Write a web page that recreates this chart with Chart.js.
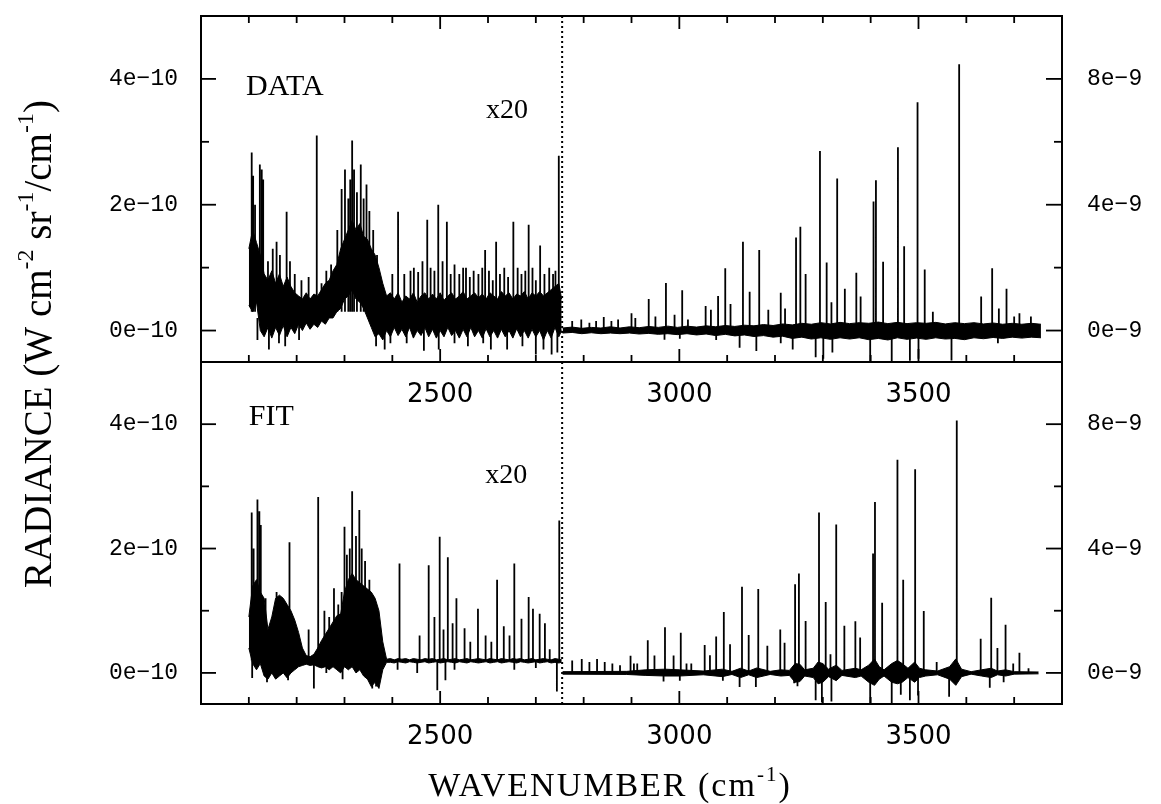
<!DOCTYPE html>
<html>
<head>
<meta charset="utf-8">
<title>Radiance spectrum: data and fit</title>
<script src="https://cdn.jsdelivr.net/npm/chart.js@4.4.0/dist/chart.umd.min.js"></script>
<style>
  html, body { margin: 0; padding: 0; background: #fff; }
  #wrap { position: relative; width: 1161px; height: 804px; overflow: hidden; }
  #wrap canvas { position: absolute; left: 0; top: 0; }
</style>
</head>
<body>
<div id="wrap">
  <canvas id="lowerPanel" width="1161" height="804"></canvas>
  <canvas id="upperPanel" width="1161" height="430"></canvas>
</div>
<script>
// ---------- axes ----------
const X_TICKS = [2500, 3000, 3500];
const X_MINOR = [2100, 2200, 2300, 2400, 2600, 2700, 2800, 2900, 3100, 3200, 3300, 3400, 3600, 3700];
const LEFT_TICKS = [0, 2, 4];     // units of 1e-10
const LEFT_MINOR = [1, 3];
const RIGHT_TICKS = [0, 4, 8];    // units of 1e-9
const RIGHT_MINOR = [2, 6];
const SPLIT_WN = 2755;            // below this wavenumber the trace is magnified x20

// ---------- x20 section (wavenumber grid shared by both panels, radiance in 1e-10) ----------
const lowGridX = [2100,2108,2116,2124,2132,2140,2148,2156,2164,2172,
  2180,2188,2196,2204,2212,2220,2228,2236,2244,2252,
  2260,2268,2276,2284,2292,2300,2308,2316,2324,2332,
  2340,2348,2356,2364,2372,2380,2388,2396,2404,2412,
  2420,2428,2436,2444,2452,2460,2468,2476,2484,2492,
  2500,2508,2516,2524,2532,2540,2548,2556,2564,2572,
  2580,2588,2596,2604,2612,2620,2628,2636,2644,2652,
  2660,2668,2676,2684,2692,2700,2708,2716,2724,2732,
  2740,2748,2754];

// measured spectrum: upper / lower edge of the noise band
const dataLowUpper = [1.3,1.6,1.4,1.2,0.9,0.8,0.95,0.75,0.9,0.7,
  0.85,0.7,0.6,0.55,0.5,0.6,0.5,0.58,0.55,0.65,
  0.75,0.8,0.95,1.05,1.3,1.45,1.6,1.75,1.6,1.7,
  1.5,1.45,1.3,1.2,1.0,0.75,0.55,0.6,0.5,0.6,
  0.45,0.55,0.5,0.6,0.45,0.55,0.6,0.5,0.58,0.5,
  0.6,0.48,0.55,0.6,0.5,0.55,0.62,0.5,0.55,0.6,
  0.52,0.58,0.5,0.6,0.55,0.5,0.62,0.55,0.6,0.5,
  0.58,0.55,0.62,0.5,0.6,0.55,0.62,0.55,0.6,0.65,
  0.7,0.75,0.5];
const dataLowLower = [0.4,0.3,0.45,0.0,-0.1,0.05,-0.12,0.05,-0.08,0.08,
  -0.1,0.05,-0.05,0.1,0.0,0.12,0.02,0.1,0.05,0.15,
  0.1,0.2,0.2,0.3,0.35,0.5,0.55,0.65,0.5,0.45,
  0.35,0.2,0.05,-0.1,-0.05,-0.15,0.0,-0.1,0.05,-0.08,
  0.02,-0.1,0.05,-0.12,0.0,-0.08,0.05,-0.1,0.02,-0.12,
  0.0,-0.1,0.05,-0.08,0.0,-0.12,0.02,-0.1,0.05,-0.1,
  0.0,-0.12,0.03,-0.1,0.0,-0.12,0.02,-0.1,0.0,-0.12,
  0.03,-0.1,0.0,-0.12,0.02,-0.1,0.0,-0.15,0.0,-0.12,
  0.05,-0.1,0.0];
const dataLowBase = 0.3;
const dataLowDipBase = 0.2;
const dataLowLineX = [2106,2109,2113,2123,2127,2130,2140,2150,2158,2165,
  2179,2186,2196,2210,2225,2242,2252,2262,2272,2285,
  2294,2301,2308,2312,2316,2320,2326,2334,2340,2346,
  2352,2360,2368,2400,2412,2425,2438,2445,2454,2463,
  2473,2480,2488,2496,2505,2514,2522,2530,2540,2548,
  2554,2562,2570,2580,2588,2594,2602,2610,2617,2625,
  2634,2642,2653,2662,2670,2678,2685,2693,2700,2709,
  2718,2728,2736,2741,2748];
const dataLowLineY = [2.83,2.46,2.0,2.64,2.56,2.4,1.1,1.3,1.41,1.2,
  1.89,1.1,0.9,0.8,0.85,3.1,0.75,0.95,1.05,1.6,
  2.25,2.56,2.1,2.4,3.02,2.56,2.2,2.64,2.1,2.32,
  1.9,1.6,1.2,0.9,1.89,0.9,0.95,1.0,0.93,1.1,
  1.76,1.0,0.95,2.0,1.1,1.73,0.9,1.05,0.9,1.0,
  1.0,0.85,0.95,0.9,1.0,1.28,0.95,0.8,1.41,0.9,
  1.0,0.85,1.73,1.0,0.9,0.95,1.68,1.0,0.8,1.35,
  0.9,1.0,0.9,0.95,2.78];
const dataLowDipX = [2118,2142,2163,2176,2205,2366,2384,2396,2430,2466,2497,2530,2558,2590,2606,2640,2672,2700,2716,2733,2745];
const dataLowDipY = [-0.15,-0.3,-0.2,-0.25,-0.15,-0.25,-0.3,-0.2,-0.2,-0.32,-0.3,-0.2,-0.25,-0.2,-0.3,-0.3,-0.25,-0.38,-0.3,-0.38,-0.35];

// fitted spectrum
const fitLowUpper = [0.9,1.4,1.5,1.3,1.2,0.7,0.9,1.2,1.25,1.2,
  1.1,1.0,0.85,0.65,0.4,0.28,0.26,0.3,0.4,0.52,
  0.62,0.72,0.82,0.92,0.95,1.3,1.5,1.6,1.5,1.45,
  1.4,1.35,1.3,1.2,1.0,0.5,0.22,0.23,0.21,0.23,
  0.22,0.23,0.21,0.23,0.22,0.21,0.23,0.22,0.23,0.21,
  0.22,0.23,0.21,0.22,0.23,0.21,0.22,0.23,0.21,0.22,
  0.23,0.22,0.21,0.23,0.22,0.21,0.23,0.22,0.21,0.23,
  0.22,0.23,0.21,0.22,0.23,0.21,0.22,0.23,0.22,0.21,
  0.23,0.22,0.21];
const fitLowLower = [0.4,0.15,0.05,0.15,-0.05,-0.1,0.0,-0.1,-0.05,0.0,
  -0.08,0.0,0.05,0.1,0.12,0.14,0.12,0.13,0.1,0.08,
  0.1,0.05,0.1,0.05,0.0,0.1,0.05,0.1,0.0,0.05,
  -0.05,-0.1,-0.22,-0.15,-0.25,0.05,0.17,0.17,0.16,0.18,
  0.17,0.16,0.18,0.17,0.16,0.17,0.18,0.16,0.17,0.18,
  0.16,0.17,0.18,0.17,0.16,0.18,0.17,0.16,0.18,0.17,
  0.16,0.17,0.18,0.16,0.17,0.18,0.16,0.17,0.18,0.17,
  0.16,0.18,0.17,0.16,0.17,0.18,0.16,0.17,0.18,0.16,
  0.17,0.16,0.17];
const fitLowBase = 0.2;
const fitLowLineX = [2106,2110,2118,2122,2125,2135,2158,2166,2175,2185,
  2225,2245,2258,2268,2278,2287,2294,2300,2305,2311,
  2316,2324,2331,2336,2343,2352,2415,2457,2476,2488,
  2499,2507,2516,2526,2534,2551,2563,2579,2595,2607,
  2619,2633,2645,2655,2670,2685,2694,2708,2719,2729,
  2749];
const fitLowLineY = [2.58,2.0,2.79,2.6,2.38,1.2,1.3,1.1,1.0,2.1,
  0.7,2.83,1.0,0.9,1.36,1.1,1.3,2.35,1.9,2.0,
  2.92,2.2,2.62,2.0,1.8,1.5,1.76,0.6,1.73,0.9,
  2.19,0.7,1.86,0.8,1.2,0.72,0.5,1.03,0.6,0.5,
  1.5,0.75,0.6,1.76,0.87,1.22,1.03,0.95,0.8,0.38,
  2.45];
const fitLowDipX = [2107,2138,2182,2236,2262,2296,2358,2366,2411,2452,2494,2511,2530,2655,2700,2744];
const fitLowDipY = [-0.08,-0.15,-0.12,-0.25,0.0,-0.1,-0.25,-0.22,0.05,0.0,-0.28,-0.12,0.05,0.05,0.08,-0.3];

// ---------- unscaled section (radiance in 1e-9) ----------
const highGridX = [2756,2776,2796,2816,2836,2856,2876,2896,2916,2936,
  2956,2976,2996,3016,3036,3056,3076,3096,3116,3136,
  3156,3176,3196,3216,3236,3256,3276,3296,3316,3336,
  3356,3376,3396,3416,3436,3456,3476,3496,3516,3536,
  3556,3576,3596,3616,3636,3656,3676,3696,3716,3736,
  3756];
const dataHighUpper = [0.08,0.11,0.07,0.1,0.08,0.12,0.08,0.12,0.09,0.13,
  0.1,0.14,0.1,0.14,0.11,0.15,0.12,0.16,0.13,0.17,
  0.15,0.19,0.16,0.21,0.18,0.23,0.2,0.25,0.21,0.26,
  0.22,0.25,0.23,0.27,0.22,0.26,0.22,0.25,0.23,0.26,
  0.21,0.25,0.22,0.25,0.21,0.24,0.2,0.23,0.2,0.23,
  0.2];
const dataHighLower = [-0.08,-0.06,-0.1,-0.07,-0.1,-0.08,-0.1,-0.08,-0.11,-0.09,
  -0.12,-0.1,-0.13,-0.1,-0.14,-0.11,-0.16,-0.12,-0.17,-0.14,
  -0.19,-0.16,-0.21,-0.18,-0.25,-0.21,-0.27,-0.23,-0.28,-0.23,
  -0.27,-0.23,-0.29,-0.25,-0.3,-0.23,-0.28,-0.24,-0.28,-0.23,
  -0.27,-0.25,-0.29,-0.23,-0.26,-0.22,-0.25,-0.21,-0.24,-0.21,
  -0.23];
const dataHighLineX = [2776,2795,2812,2826,2842,2858,2872,2900,2908,2936,
  2950,2972,2990,3006,3018,3055,3066,3081,3096,3107,
  3133,3147,3167,3186,3212,3221,3244,3253,3264,3294,
  3308,3318,3330,3346,3370,3379,3406,3411,3426,3457,
  3470,3498,3513,3530,3585,3631,3654,3668,3684,3700,
  3711,3735];
const dataHighLineY = [0.3,0.35,0.25,0.3,0.43,0.3,0.35,0.55,0.4,1.0,
  0.45,1.51,0.5,1.28,0.35,0.78,0.66,1.1,1.98,0.84,
  2.82,1.23,2.56,0.66,1.2,0.7,2.96,3.3,1.8,5.71,
  2.16,0.9,4.83,1.33,1.84,1.08,4.1,4.78,2.19,5.83,
  2.68,7.26,1.94,0.6,8.47,1.08,1.98,0.7,1.33,0.45,
  0.55,0.45];
const dataHighDipX = [2969,3001,3077,3126,3161,3212,3237,3285,3301,3320,3399,3444,3482,3500,3569,3605,3666];
const dataHighDipY = [-0.29,-0.26,-0.3,-0.55,-0.65,-0.4,-0.6,-0.85,-0.9,-0.7,-0.98,-0.97,-0.96,-0.9,-0.95,-0.25,-0.4];

const fitHighEnvX = [2756,2890,2930,2970,3000,3050,3090,3110,3128,3145,
  3162,3190,3212,3230,3242,3252,3262,3280,3290,3300,
  3312,3328,3340,3368,3380,3396,3408,3418,3428,3444,
  3456,3466,3478,3492,3502,3515,3540,3565,3578,3590,
  3610,3632,3652,3665,3682,3700,3751];
const fitHighUpper = [0.04,0.05,0.1,0.12,0.1,0.06,0.12,0.05,0.15,0.06,
  0.16,0.05,0.1,0.08,0.3,0.28,0.1,0.15,0.35,0.3,
  0.12,0.25,0.08,0.15,0.1,0.25,0.45,0.2,0.1,0.3,
  0.4,0.3,0.15,0.35,0.15,0.1,0.06,0.2,0.45,0.12,
  0.04,0.1,0.15,0.06,0.1,0.04,0.03];
const fitHighLower = [-0.04,-0.05,-0.08,-0.1,-0.1,-0.06,-0.12,-0.05,-0.15,-0.06,
  -0.15,-0.05,-0.1,-0.08,-0.3,-0.28,-0.1,-0.15,-0.35,-0.3,
  -0.12,-0.25,-0.08,-0.15,-0.1,-0.3,-0.4,-0.2,-0.1,-0.3,
  -0.35,-0.3,-0.15,-0.3,-0.15,-0.1,-0.06,-0.2,-0.4,-0.12,
  -0.04,-0.1,-0.15,-0.06,-0.1,-0.04,-0.03];
const fitHighLineX = [2776,2796,2812,2828,2844,2860,2876,2898,2905,2912,
  2934,2948,2970,2988,3003,3015,3025,3053,3064,3077,
  3093,3106,3131,3145,3165,3184,3211,3220,3242,3250,
  3264,3292,3306,3316,3328,3345,3368,3378,3405,3409,
  3424,3456,3468,3493,3511,3538,3580,3630,3652,3665,
  3682,3698,3711,3730];
const fitHighLineY = [0.4,0.45,0.35,0.45,0.35,0.3,0.25,0.55,0.3,0.3,
  1.05,0.56,1.47,0.56,1.29,0.3,0.3,0.9,0.57,1.17,
  1.96,0.92,2.77,1.22,2.7,0.87,1.4,0.97,2.85,3.2,
  1.67,5.16,2.28,0.6,4.77,1.52,1.66,1.14,3.84,5.5,
  2.26,6.86,3.0,6.55,1.99,0.35,8.12,1.1,2.42,0.8,
  1.55,0.3,0.65,0.15];
const fitHighDipX = [2967,3001,3091,3126,3160,3240,3247,3285,3298,3318,3399,3444,3463,3482,3499,3564,3649,3678];
const fitHighDipY = [-0.28,-0.25,-0.25,-0.45,-0.45,-0.33,-0.43,-0.88,-0.95,-0.92,-0.98,-0.97,-0.7,-0.88,-0.73,-0.77,-0.48,-0.3];

// ---------- layout ----------
const CANVAS_W = 1161;
const AREA_LEFT = 201, AREA_RIGHT = 1062;
const UPPER = { canvas: 'upperPanel', height: 430, top: 16, bottom: 362 };
const LOWER = { canvas: 'lowerPanel', height: 804, top: 362, bottom: 704 };
const SERIF = '"Liberation Serif", "Times New Roman", serif';
const MONO = '"Liberation Mono", "Courier New", monospace';
const SANS = '"DejaVu Sans", sans-serif';

// ---------- dataset builders ----------
const toPoints = (xs, ys) => xs.map((x, i) => ({ x, y: ys[i] }));
const toSticks = (xs, ys, base) => xs.flatMap((x, i) => [{ x, y: base }, { x, y: ys[i] }, { x, y: null }]);

function band(xs, upper, lower, axis) {
  return [
    { data: toPoints(xs, upper), yAxisID: axis, fill: '+1', backgroundColor: '#000', borderColor: '#000', borderWidth: 1 },
    { data: toPoints(xs, lower), yAxisID: axis, fill: false, borderColor: '#000', borderWidth: 1 }
  ];
}
function sticks(xs, ys, base, axis) {
  return { data: toSticks(xs, ys, base), yAxisID: axis, fill: false, borderColor: '#000', borderWidth: 1.8, spanGaps: false };
}

// frame, inward ticks, split marker and panel captions
function panelDecor(cfg) {
  return {
    id: 'decor',
    afterDatasetsDraw(chart) {
      const { ctx, chartArea: a, scales } = chart;
      const x = scales.x, yL = scales.yL, yR = scales.yR;
      const seg = (x1, y1, x2, y2) => { ctx.beginPath(); ctx.moveTo(x1, y1); ctx.lineTo(x2, y2); ctx.stroke(); };
      ctx.save();
      ctx.strokeStyle = '#000';
      ctx.lineWidth = 2;
      ctx.strokeRect(a.left, a.top, a.right - a.left, a.bottom - a.top);
      ctx.lineWidth = 1.8;
      X_MINOR.concat(X_TICKS).forEach(v => {
        const px = x.getPixelForValue(v);
        const len = X_TICKS.includes(v) ? 13 : 7;
        seg(px, a.bottom, px, a.bottom - len);
        if (cfg.topTicks) seg(px, a.top, px, a.top + len);
      });
      LEFT_MINOR.concat(LEFT_TICKS).forEach(v => {
        const py = yL.getPixelForValue(v);
        seg(a.left, py, a.left + (LEFT_TICKS.includes(v) ? 15 : 8), py);
      });
      RIGHT_MINOR.concat(RIGHT_TICKS).forEach(v => {
        const py = yR.getPixelForValue(v);
        seg(a.right, py, a.right - (RIGHT_TICKS.includes(v) ? 16 : 8), py);
      });
      ctx.lineWidth = 2;
      ctx.setLineDash([2, 3]);
      const sx = x.getPixelForValue(SPLIT_WN);
      seg(sx, a.top, sx, a.bottom);
      ctx.setLineDash([]);

      ctx.fillStyle = '#000';
      ctx.textBaseline = 'alphabetic';
      ctx.textAlign = 'left';
      ctx.font = '30px ' + SERIF;
      ctx.fillText(cfg.caption, x.getPixelForValue(cfg.captionAt[0]), yL.getPixelForValue(cfg.captionAt[1]));
      ctx.font = '28px ' + SERIF;
      ctx.fillText('x20', x.getPixelForValue(cfg.scaleNoteAt[0]), yL.getPixelForValue(cfg.scaleNoteAt[1]));
      ctx.restore();
      if (cfg.titles) drawTitles(ctx);
    }
  };
}

// text with raised segments, centred on (cx, cy) along its baseline
function drawRich(ctx, parts, size, cx, cy, rotate, spacing) {
  ctx.save();
  ctx.translate(cx, cy);
  if (rotate) ctx.rotate(-Math.PI / 2);
  if ('letterSpacing' in ctx) ctx.letterSpacing = spacing + 'px';
  const supSize = Math.round(size * 0.62);
  let total = 0;
  parts.forEach(p => { ctx.font = (p.sup ? supSize : size) + 'px ' + SERIF; total += ctx.measureText(p.t).width; });
  let pos = -total / 2;
  ctx.fillStyle = '#000';
  ctx.textBaseline = 'alphabetic';
  ctx.textAlign = 'left';
  parts.forEach(p => {
    ctx.font = (p.sup ? supSize : size) + 'px ' + SERIF;
    ctx.fillText(p.t, pos, p.sup ? -size * 0.45 : 0);
    pos += ctx.measureText(p.t).width;
  });
  ctx.restore();
}
function drawTitles(ctx) {
  drawRich(ctx, [{ t: 'WAVENUMBER (cm' }, { t: '-1', sup: true }, { t: ')' }], 34, 610, 796, false, 2);
  drawRich(ctx, [{ t: 'RADIANCE (W cm' }, { t: '-2', sup: true }, { t: ' sr' }, { t: '-1', sup: true },
                 { t: '/cm' }, { t: '-1', sup: true }, { t: ')' }], 39, 51, 344, true, 0);
}

// y axes keep no extra room above or below their first/last label
const noVerticalPadding = s => { s.paddingTop = 0; s.paddingBottom = 0; };

function buildPanel(layout, datasets, cfg) {
  const chart = new Chart(document.getElementById(layout.canvas), {
    type: 'line',
    data: { datasets },
    options: {
      responsive: false,
      animation: false,
      devicePixelRatio: 1,
      events: [],
      layout: { autoPadding: false, padding: { top: layout.top, left: 0, right: 0, bottom: 0 } },
      plugins: { legend: { display: false }, tooltip: { enabled: false }, title: { display: false } },
      elements: { point: { radius: 0 }, line: { tension: 0, borderCapStyle: 'butt' } },
      scales: {
        x: {
          type: 'linear', position: 'bottom', min: 2000, max: 3800,
          grid: { display: false }, border: { display: false },
          afterBuildTicks: s => { s.ticks = X_TICKS.map(v => ({ value: v })); },
          afterFit: s => { s.height = layout.height - layout.bottom; s.paddingLeft = 0; s.paddingRight = 0; },
          ticks: { color: '#000', font: { family: SANS, size: 26 }, padding: 10, maxRotation: 0, autoSkip: false,
                   callback: v => String(v) }
        },
        yL: {
          type: 'linear', position: 'left', min: -0.5, max: 5,
          grid: { display: false }, border: { display: false },
          afterBuildTicks: s => { s.ticks = LEFT_TICKS.map(v => ({ value: v })); },
          afterFit: s => { s.width = AREA_LEFT; noVerticalPadding(s); },
          ticks: { color: '#000', font: { family: MONO, size: 23 }, padding: 15, callback: v => v + 'e\u221210' }
        },
        yR: {
          type: 'linear', position: 'right', min: -1, max: 10,
          grid: { display: false }, border: { display: false },
          afterBuildTicks: s => { s.ticks = RIGHT_TICKS.map(v => ({ value: v })); },
          afterFit: s => { s.width = CANVAS_W - AREA_RIGHT; noVerticalPadding(s); },
          ticks: { color: '#000', font: { family: MONO, size: 23 }, padding: 17, callback: v => v + 'e\u22129' }
        }
      }
    },
    plugins: [panelDecor(cfg)]
  });
  // make the plot area land exactly on the requested top edge
  const shift = chart.chartArea.top - layout.top;
  if (Math.abs(shift) > 0.5) {
    chart.options.layout.padding = { top: layout.top - shift, left: 0, right: 0, bottom: 0 };
    chart.update('none');
  }
  return chart;
}

// lower panel: fitted spectrum (covers the whole page and carries the axis titles)
buildPanel(LOWER, [
  ...band(lowGridX, fitLowUpper, fitLowLower, 'yL'),
  sticks(fitLowLineX, fitLowLineY, fitLowBase, 'yL'),
  sticks(fitLowDipX, fitLowDipY, fitLowBase, 'yL'),
  ...band(fitHighEnvX, fitHighUpper, fitHighLower, 'yR'),
  sticks(fitHighLineX, fitHighLineY, 0, 'yR'),
  sticks(fitHighDipX, fitHighDipY, 0, 'yR')
], { caption: 'FIT', captionAt: [2100, 3.98], scaleNoteAt: [2594, 3.06], topTicks: false, titles: true });

// upper panel: measured spectrum
buildPanel(UPPER, [
  ...band(lowGridX, dataLowUpper, dataLowLower, 'yL'),
  sticks(dataLowLineX, dataLowLineY, dataLowBase, 'yL'),
  sticks(dataLowDipX, dataLowDipY, dataLowDipBase, 'yL'),
  ...band(highGridX, dataHighUpper, dataHighLower, 'yR'),
  sticks(dataHighLineX, dataHighLineY, 0, 'yR'),
  sticks(dataHighDipX, dataHighDipY, 0, 'yR')
], { caption: 'DATA', captionAt: [2094, 3.74], scaleNoteAt: [2596, 3.38], topTicks: true, titles: false });
</script>
</body>
</html>
